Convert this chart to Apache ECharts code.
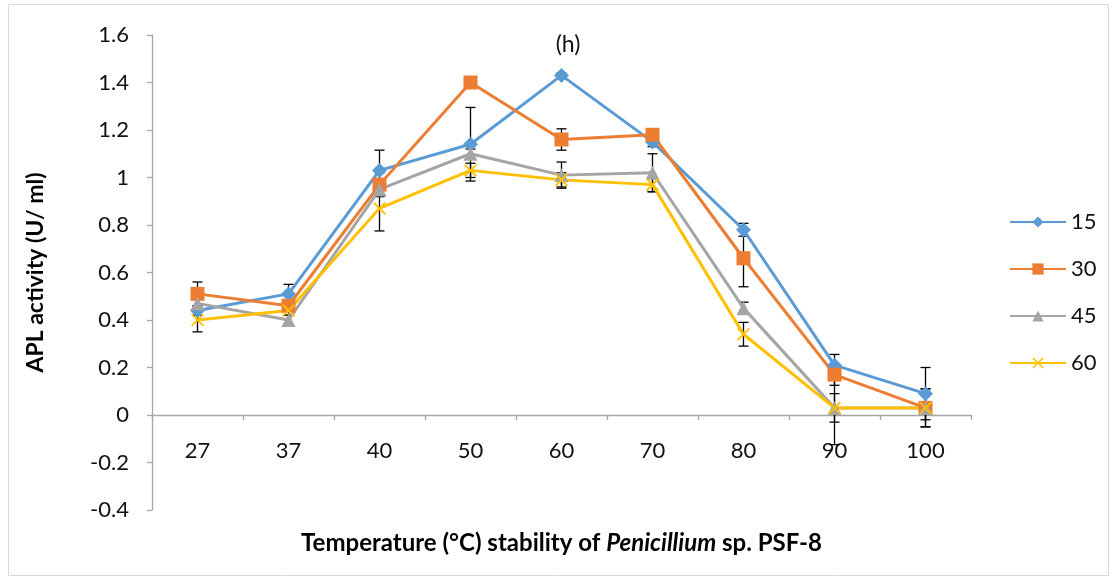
<!DOCTYPE html>
<html>
<head>
<meta charset="utf-8">
<script src="https://cdn.jsdelivr.net/npm/echarts@6/dist/echarts.min.js"></script>
<style>
  html, body { margin: 0; padding: 0; background: #fff; }
  #chart { width: 1116px; height: 578px; }
</style>
</head>
<body>
<div id="chart"></div>
<script>
// Incubation temperatures (°C)
const categories = ['27', '37', '40', '50', '60', '70', '80', '90', '100'];

// APL activity (U/ml) for each incubation time (min)
const act15 = [0.44, 0.51, 1.03, 1.14, 1.43, 1.15, 0.78, 0.21, 0.09];
const act30 = [0.51, 0.46, 0.97, 1.40, 1.16, 1.18, 0.66, 0.17, 0.03];
const act45 = [0.47, 0.40, 0.95, 1.10, 1.01, 1.02, 0.45, 0.03, 0.03];
const act60 = [0.40, 0.44, 0.87, 1.03, 0.99, 0.97, 0.34, 0.03, 0.03];

// Standard deviations (symmetric error bars)
const err15 = [0.02, 0.04, 0.085, 0.155, 0.01, 0.02, 0.027, 0.045, 0.11];
const err30 = [0.05, 0.02, 0.05, 0.02, 0.045, 0.02, 0.12, 0.045, 0.08];
const err45 = [0.02, 0.02, 0.03, 0.02, 0.055, 0.08, 0.025, 0.06, 0.02];
const err60 = [0.05, 0.02, 0.095, 0.03, 0.03, 0.03, 0.05, 0.155, 0.08];

const seriesNames = ['15', '30', '45', '60'];
const yTicks = [-0.4, -0.2, 0, 0.2, 0.4, 0.6, 0.8, 1, 1.2, 1.4, 1.6];

const colors = ['#5B9BD5', '#ED7D31', '#A5A5A5', '#FFC000'];
const FONT = 'Lato, "Open Sans", sans-serif';

// thin cross used as the marker of the last series
const crossPath = 'path://M0,1 L1,0 L5,4 L9,0 L10,1 L6,5 L10,9 L9,10 L5,6 L1,10 L0,9 L4,5 Z';

const GRID = { left: 152, right: 145, top: 35, bottom: 68 };
const CHART_H = 578;
// vertical distance from the plot bottom (y = -0.4) up to the zero line
const zeroLift = (CHART_H - GRID.bottom - GRID.top) * (0 - yTicks[0]) / (yTicks[yTicks.length - 1] - yTicks[0]);

function errorSeries(values, errs, name) {
  const data = values.map((v, i) => [i, v, errs[i]]);
  return {
    type: 'custom',
    name: name + ' err',
    z: 1,
    silent: true,
    data: data,
    encode: { x: 0, y: 1 },
    renderItem: function (params, api) {
      const i = api.value(0), v = api.value(1), e = api.value(2);
      const top = api.coord([i, v + e]);
      const bot = api.coord([i, v - e]);
      const cap = 5;
      const style = { stroke: '#000', lineWidth: 1.3 };
      return {
        type: 'group',
        children: [
          { type: 'line', shape: { x1: top[0], y1: top[1], x2: bot[0], y2: bot[1] }, style: style },
          { type: 'line', shape: { x1: top[0] - cap, y1: top[1], x2: top[0] + cap, y2: top[1] }, style: style },
          { type: 'line', shape: { x1: bot[0] - cap, y1: bot[1], x2: bot[0] + cap, y2: bot[1] }, style: style }
        ]
      };
    }
  };
}

function lineSeries(name, values, color, symbol, size) {
  return {
    type: 'line',
    name: name,
    data: values,
    z: 3,
    symbol: symbol,
    symbolSize: size,
    showAllSymbol: true,
    lineStyle: { color: color, width: 3 },
    itemStyle: { color: color, opacity: 1 },
    emphasis: { disabled: true },
    animation: false
  };
}

const chart = echarts.init(document.getElementById('chart'), null, { renderer: 'canvas' });

chart.setOption({
  animation: false,
  backgroundColor: '#fff',
  color: colors,
  title: {
    text: '(h)',
    left: 563,
    top: 28,
    textAlign: 'center',
    textStyle: { fontFamily: FONT, fontSize: 23, fontWeight: 'normal', color: '#111' }
  },
  graphic: [{
    type: 'rect',
    shape: { x: 8.5, y: 4.5, width: 1100, height: 571 },
    style: { fill: 'none', stroke: '#D9D9D9', lineWidth: 1 },
    silent: true,
    z: -1
  }],
  legend: {
    orient: 'vertical',
    left: 1004,
    top: 206,
    itemGap: 25,
    itemWidth: 56,
    itemHeight: 14,
    data: seriesNames,
    textStyle: { fontFamily: FONT, fontSize: 22, color: '#111', padding: [0, 0, 0, 0] }
  },
  grid: Object.assign({ containLabel: false, outerBoundsMode: 'none' }, GRID),
  xAxis: [{
    // axis line and ticks crossing at y = 0
    type: 'category',
    data: categories,
    boundaryGap: true,
    axisLine: { onZero: true, lineStyle: { color: '#A6A6A6', width: 1.3 } },
    axisTick: { show: true, inside: false, length: 5, alignWithLabel: false, lineStyle: { color: '#A6A6A6', width: 1.3 } },
    axisLabel: { show: false },
    splitLine: { show: false }
  }, {
    // category labels and title placed just under the zero line
    type: 'category',
    data: categories,
    position: 'bottom',
    offset: -zeroLift,
    boundaryGap: true,
    name: '{n|Temperature (°C) stability of }{i|Penicillium}{n| sp. PSF-8}',
    nameLocation: 'middle',
    nameGap: 116,
    nameTextStyle: {
      rich: {
        n: { fontFamily: FONT, fontSize: 24, fontWeight: 'bold', color: '#000' },
        i: { fontFamily: FONT, fontSize: 24, fontWeight: 'bold', fontStyle: 'italic', color: '#000' }
      }
    },
    axisLine: { show: false, onZero: false },
    axisTick: { show: false },
    axisLabel: { fontFamily: FONT, fontSize: 22, color: '#111', margin: 25 },
    splitLine: { show: false }
  }],
  yAxis: {
    type: 'value',
    min: yTicks[0],
    max: yTicks[yTicks.length - 1],
    interval: 0.2,
    name: 'APL activity (U/ ml)',
    nameLocation: 'middle',
    nameGap: 105,
    nameRotate: 90,
    nameTextStyle: { fontFamily: FONT, fontSize: 23, fontWeight: 'bold', color: '#000' },
    axisLine: { show: true, onZero: false, lineStyle: { color: '#A6A6A6', width: 1.3 } },
    axisTick: { show: true, inside: false, length: 5, lineStyle: { color: '#A6A6A6', width: 1.3 } },
    axisLabel: {
      fontFamily: FONT, fontSize: 22, color: '#111', margin: 23,
      formatter: function (v) { return String(Math.round(v * 10) / 10); }
    },
    splitLine: { show: false }
  },
  series: [
    errorSeries(act15, err15, seriesNames[0]),
    errorSeries(act30, err30, seriesNames[1]),
    errorSeries(act45, err45, seriesNames[2]),
    errorSeries(act60, err60, seriesNames[3]),
    lineSeries(seriesNames[0], act15, colors[0], 'diamond', 15),
    lineSeries(seriesNames[1], act30, colors[1], 'rect', 14),
    lineSeries(seriesNames[2], act45, colors[2], 'triangle', 14),
    lineSeries(seriesNames[3], act60, colors[3], crossPath, 13)
  ]
});
</script>
</body>
</html>
